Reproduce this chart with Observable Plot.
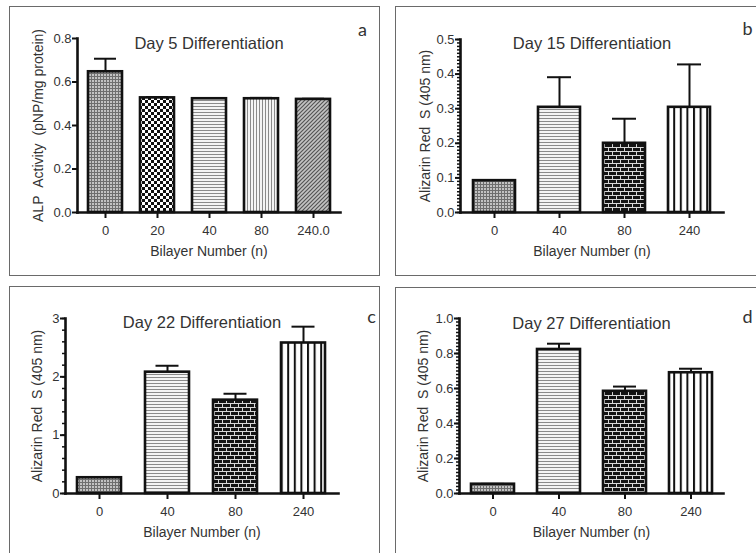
<!DOCTYPE html>
<html><head><meta charset="utf-8">
<script src="https://cdn.jsdelivr.net/npm/d3@7"></script>
<script src="https://cdn.jsdelivr.net/npm/@observablehq/plot@0.6"></script>
<style>
html,body{margin:0;padding:0;background:#fff;}
body{width:756px;height:553px;overflow:hidden;position:relative;font-family:'Liberation Sans',Arial,sans-serif;}
.box{position:absolute;border:1.5px solid #6a6a6a;box-sizing:border-box;}
.plot{position:absolute;}
</style></head><body>
<svg width="0" height="0" style="position:absolute;left:0;top:0">
<defs>
<pattern id="p-fine" width="3" height="3" patternUnits="userSpaceOnUse">
  <rect width="3" height="3" fill="#c2c2c2"/><rect width="3" height="1" fill="#6e6e6e"/><rect width="1" height="3" fill="#6e6e6e"/>
</pattern>
<pattern id="p-check" width="6" height="6" patternUnits="userSpaceOnUse">
  <rect width="6" height="6" fill="#fff"/><rect width="3" height="3" fill="#111"/><rect x="3" y="3" width="3" height="3" fill="#111"/>
</pattern>
<pattern id="p-hline" width="3" height="3" patternUnits="userSpaceOnUse">
  <rect width="3" height="3" fill="#f4f4f4"/><rect width="3" height="1" fill="#8a8a8a"/>
</pattern>
<pattern id="p-vline" width="3" height="3" patternUnits="userSpaceOnUse">
  <rect width="3" height="3" fill="#f4f4f4"/><rect width="1" height="3" fill="#8a8a8a"/>
</pattern>
<pattern id="p-diag" width="4" height="4" patternUnits="userSpaceOnUse">
  <rect width="4" height="4" fill="#c4c4c4"/><path d="M-1,1 l2,-2 M0,4 l4,-4 M3,5 l2,-2" stroke="#555" stroke-width="1.2"/>
</pattern>
<pattern id="p-brick" width="8" height="8" patternUnits="userSpaceOnUse">
  <rect width="8" height="8" fill="#141414"/>
  <path d="M0,0.5 H8 M0,4.5 H8 M0.5,0.5 V4.5 M4.5,4.5 V8" stroke="#d8d8d8" stroke-width="1"/>
</pattern>
<pattern id="p-vthick" width="6.6" height="6" patternUnits="userSpaceOnUse">
  <rect width="6.6" height="6" fill="#fff"/><rect width="2" height="6" fill="#111"/>
</pattern>
</defs>
</svg>

<div class="box" style="left:9px;top:6px;width:371px;height:270px"></div>
<div class="box" style="left:395px;top:6px;width:362px;height:270px"></div>
<div class="box" style="left:9px;top:286px;width:371px;height:300px"></div>
<div class="box" style="left:395px;top:287px;width:362px;height:300px"></div>

<div id="pa" class="plot" style="left:10px;top:7px"></div>
<div id="pb" class="plot" style="left:396px;top:7px"></div>
<div id="pc" class="plot" style="left:10px;top:287px"></div>
<div id="pd" class="plot" style="left:396px;top:287px"></div>

<script>
// ---- data ----
const catsA = ["0", "20", "40", "80", "240.0"];
const meanA = [0.647, 0.527, 0.523, 0.523, 0.520];
const errA  = [0.060, 0.004, 0.002, 0.004, 0.003];
const fillA = ["url(#p-fine)", "url(#p-check)", "url(#p-hline)", "url(#p-vline)", "url(#p-diag)"];

const catsBCD = ["0", "40", "80", "240"];
const fillBCD = ["url(#p-fine)", "url(#p-hline)", "url(#p-brick)", "url(#p-vthick)"];

const meanB = [0.092, 0.304, 0.200, 0.304];
const errB  = [0.002, 0.087, 0.071, 0.124];

const meanC = [0.27, 2.08, 1.60, 2.58];
const errC  = [0.01, 0.11, 0.11, 0.28];

const meanD = [0.053, 0.823, 0.584, 0.690];
const errD  = [0.002, 0.033, 0.027, 0.023];

const ticksA = [0, 0.2, 0.4, 0.6, 0.8];
const ticksB = [0, 0.1, 0.2, 0.3, 0.4, 0.5];
const ticksC = [0, 1, 2, 3];
const ticksD = [0, 0.2, 0.4, 0.6, 0.8, 1.0];

const titles = ["Day 5 Differentiation", "Day 15 Differentiation", "Day 22 Differentiation", "Day 27 Differentiation"];
const letters = ["a", "b", "c", "d"];
const yLabels = ["ALP\u00a0\u00a0Activity\u00a0\u00a0(pNP/mg protein)", "Alizarin Red\u00a0\u00a0S (405 nm)", "Alizarin Red\u00a0\u00a0S (405 nm)", "Alizarin Red\u00a0\u00a0S (405 nm)"];
const xLabel = "Bilayer Number (n)";

const TXT = "#333";
const FONT = "'Liberation Sans', Arial, sans-serif";

function panel(el, o) {
  const data = o.cats.map((c, i) => ({cat: c, mean: o.mean[i], err: o.err[i], fill: o.fill[i]}));
  const minor = o.minorStep ? d3.range(0, Math.round(o.ymax / o.minorStep) + 1).map(k => k * o.minorStep) : [];
  const marks = [];
  if (minor.length) marks.push(Plot.axisY({ticks: minor, tickSize: 3, text: null, label: null, strokeWidth: 1.5, stroke: "#111"}));
  marks.push(
    Plot.axisY({ticks: o.ticks, tickSize: 5, tickPadding: 1, tickFormat: o.fmt, label: null, strokeWidth: 2, stroke: "#111", fontSize: 13, fill: TXT}),
    Plot.axisX({tickSize: 6, tickPadding: 7, label: null, strokeWidth: 2, stroke: "#111", fontSize: 13, fill: TXT}),
    Plot.ruleX(data, {x: "cat", y1: "mean", y2: d => d.mean + d.err, stroke: "#111", strokeWidth: 2}),
    Plot.tickY(data, {x: "cat", y: d => d.mean + d.err, stroke: "#111", strokeWidth: 2, insetLeft: o.capInset, insetRight: o.capInset}),
    Plot.barY(data, {x: "cat", y: "mean", fill: "fill", stroke: "#111", strokeWidth: 2.6}),
    Plot.frame({anchor: "left", stroke: "#111", strokeWidth: 2.6}),
    Plot.frame({anchor: "bottom", stroke: "#111", strokeWidth: 2.6}),
    Plot.text([o.title], {frameAnchor: "top", dy: o.titleDy, text: d => d, fontSize: 16.5, fill: TXT, lineAnchor: "middle"}),
    Plot.text([o.letter], {frameAnchor: "top-right", dx: o.letterDx, dy: o.letterDy, text: d => d, fontSize: 18, fontFamily: "Lato, sans-serif", fill: TXT, textAnchor: "middle", lineAnchor: "middle"}),
    Plot.text([o.ylabel], {frameAnchor: "left", dx: o.ylabDx, rotate: -90, text: d => d, fontSize: 14, fill: TXT, textAnchor: "middle", lineAnchor: "middle"}),
    Plot.text([xLabel], {frameAnchor: "bottom", dy: 39, text: d => d, fontSize: 14, fill: TXT, textAnchor: "middle", lineAnchor: "middle"})
  );
  const chart = Plot.plot({
    width: o.width, height: o.height,
    marginLeft: o.ml, marginRight: o.mr, marginTop: o.mt, marginBottom: o.mb,
    style: {fontFamily: FONT, fontSize: "13px", color: TXT, background: "transparent", overflow: "visible"},
    x: {type: "band", domain: o.cats, paddingInner: 0.35, paddingOuter: 0.175, label: null, axis: null},
    y: {domain: [0, o.ymax], label: null, axis: null},
    color: {type: "identity"},
    marks
  });
  document.getElementById(el).appendChild(chart);
}

panel("pa", {cats: catsA, mean: meanA, err: errA, fill: fillA, ticks: ticksA, fmt: ".1f", ymax: 0.8, minorStep: 0,
  width: 368, height: 267, ml: 67, mr: 38, mt: 31, mb: 62, capInset: 6,
  title: titles[0], titleDy: 5, letter: letters[0], letterDx: 22, letterDy: -8, ylabel: yLabels[0], ylabDx: -39});
panel("pb", {cats: catsBCD, mean: meanB, err: errB, fill: fillBCD, ticks: ticksB, fmt: ".1f", ymax: 0.5, minorStep: 0.01,
  width: 359, height: 267, ml: 64, mr: 32, mt: 32, mb: 62, capInset: 9,
  title: titles[1], titleDy: 4, letter: letters[1], letterDx: 24, letterDy: -10, ylabel: yLabels[1], ylabDx: -35});
panel("pc", {cats: catsBCD, mean: meanC, err: errC, fill: fillBCD, ticks: ticksC, fmt: "d", ymax: 3, minorStep: 0.2,
  width: 368, height: 266, ml: 55, mr: 40, mt: 31, mb: 60, capInset: 10.5,
  title: titles[2], titleDy: 4, letter: letters[2], letterDx: 33, letterDy: -1, ylabel: yLabels[2], ylabDx: -28});
panel("pd", {cats: catsBCD, mean: meanD, err: errD, fill: fillBCD, ticks: ticksD, fmt: ".1f", ymax: 1.0, minorStep: 0.02,
  width: 359, height: 266, ml: 63, mr: 32, mt: 31, mb: 60, capInset: 10,
  title: titles[3], titleDy: 5, letter: letters[3], letterDx: 24, letterDy: -1, ylabel: yLabels[3], ylabDx: -36});
</script>
</body></html>
